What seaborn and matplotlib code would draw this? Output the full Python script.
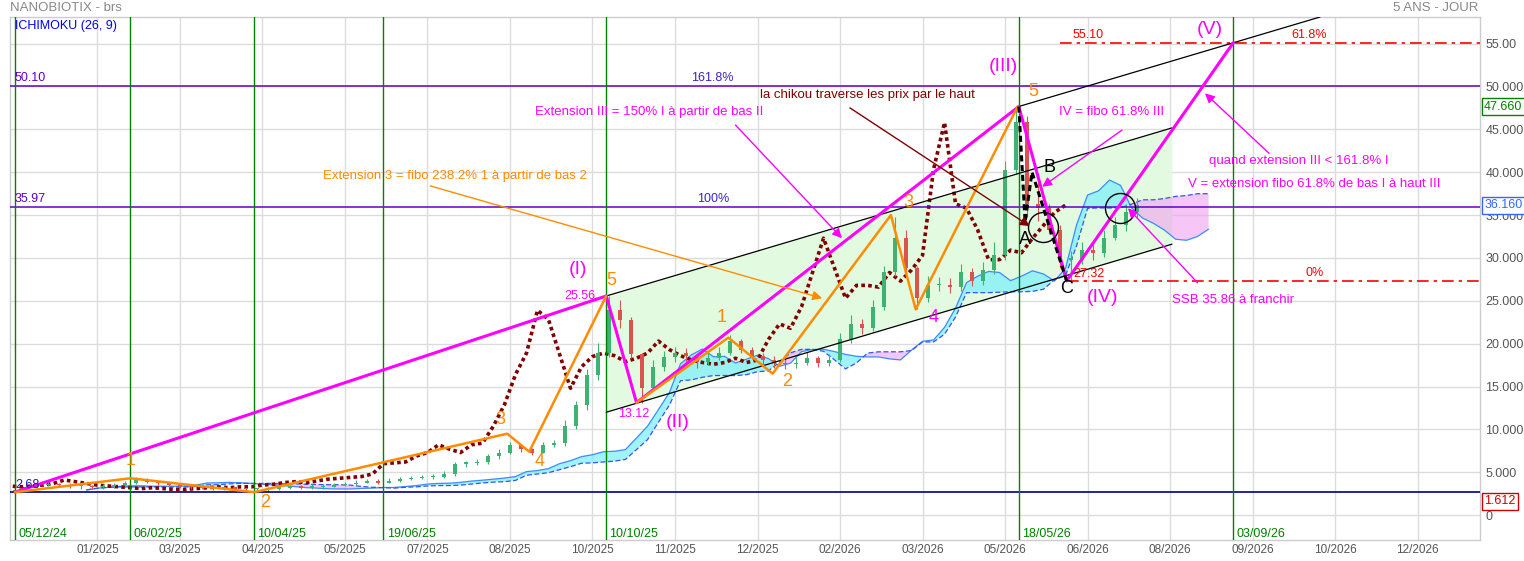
from __future__ import annotations

import matplotlib

matplotlib.use("Agg")

import matplotlib.pyplot as plt
import numpy as np
import pandas as pd
import seaborn as sns


# one candle every 4 sessions, x = session index counted from 05/12/24
CANDLE_STEP = 4

closes = [
    2.9, 3.3, 3.5, 3.6, 3.5, 3.4, 3.4, 3.3, 3.4, 3.5,
    3.7, 4.1, 3.9, 3.7, 3.5, 3.4, 3.3, 3.2, 3.1, 3.2,
    3.1, 3.0, 3.0, 3.1, 3.2, 3.3, 3.2, 3.3, 3.3, 3.5,
    3.6, 3.8, 3.9, 3.8, 4.0, 4.2, 4.3, 4.4, 4.5, 4.8,
    6.0, 6.1, 6.2, 6.9, 7.3, 8.2, 7.7, 7.3, 8.2, 8.4,
    10.4, 12.9, 16.4, 18.9, 23.9, 22.8, 18.8, 14.8, 17.3, 18.5,
    18.9, 18.6, 17.9, 18.3, 18.9, 20.3, 19.3, 18.6, 18.1, 17.8,
    17.6, 17.8, 18.3, 17.8, 18.1, 20.5, 22.3, 21.8, 24.3, 28.3,
    32.3, 28.8, 25.3, 26.8, 26.8, 26.6, 28.3, 27.3, 28.6, 30.3,
    40.3, 45.8, 36.3, 35.8, 33.3, 29.8, 29.8, 30.9, 30.6, 32.3,
    33.8, 35.3, 36.16,
]
highs = [
    3.2, 3.6, 3.8, 3.9, 3.8, 3.7, 3.6, 3.5, 3.6, 3.7,
    4.0, 4.4, 4.3, 4.0, 3.8, 3.7, 3.6, 3.5, 3.4, 3.4,
    3.3, 3.2, 3.2, 3.3, 3.4, 3.5, 3.5, 3.6, 3.6, 3.8,
    3.9, 4.1, 4.2, 4.2, 4.3, 4.5, 4.6, 4.7, 4.8, 5.1,
    6.2, 6.3, 6.5, 7.1, 7.7, 8.5, 8.3, 7.8, 8.5, 8.8,
    11.1, 13.3, 17.1, 20.1, 25.56, 25.1, 23.1, 18.9, 18.1, 19.2,
    19.6, 19.5, 18.8, 19.0, 19.6, 21.0, 20.6, 19.6, 18.9, 18.6,
    18.3, 18.5, 19.0, 18.6, 18.8, 21.3, 23.3, 22.9, 25.1, 29.1,
    34.8, 33.3, 29.1, 27.9, 27.8, 27.7, 29.3, 28.8, 29.5, 31.8,
    41.3, 47.66, 46.5, 38.8, 36.3, 33.8, 30.8, 31.8, 31.6, 33.3,
    34.8, 36.3, 37.0,
]
lows = [
    2.68, 2.9, 3.2, 3.4, 3.3, 3.2, 3.1, 3.0, 3.1, 3.2,
    3.3, 3.6, 3.7, 3.5, 3.3, 3.2, 3.1, 3.0, 2.9, 2.9,
    2.8, 2.75, 2.7, 2.75, 2.9, 3.0, 3.0, 3.0, 3.1, 3.3,
    3.4, 3.5, 3.7, 3.6, 3.7, 3.9, 4.1, 4.2, 4.2, 4.3,
    4.6, 5.6, 5.8, 6.0, 6.6, 7.1, 7.4, 7.0, 7.2, 7.9,
    8.1, 10.1, 12.3, 15.8, 18.5, 21.8, 18.3, 13.12, 14.5, 16.8,
    17.9, 17.7, 17.2, 17.5, 18.1, 18.7, 18.9, 18.2, 17.5, 17.2,
    17.1, 17.2, 17.5, 17.3, 17.4, 17.9, 20.1, 21.1, 21.5, 23.9,
    27.9, 28.1, 24.0, 24.9, 26.1, 25.9, 26.2, 26.7, 26.9, 28.1,
    29.8, 39.8, 34.8, 34.3, 32.8, 28.8, 27.32, 29.3, 29.8, 30.1,
    32.1, 33.1, 34.8,
]

month_labels = [
    "01/2025", "03/2025", "04/2025", "05/2025", "07/2025", "08/2025",
    "10/2025", "11/2025", "12/2025", "02/2026", "03/2026", "05/2026",
    "06/2026", "08/2026", "09/2026", "10/2026", "12/2026",
]
month_sessions = [30, 60, 90, 120, 150, 180, 210, 240, 270, 300, 330, 360, 390, 420, 450, 480, 510]

date_labels = ["05/12/24", "06/02/25", "10/04/25", "19/06/25", "10/10/25", "18/05/26", "03/09/26"]
date_sessions = [0, 42, 87, 134, 215, 365, 443]

# Elliott counts (session, price)
wave_main_x = [0, 215, 226, 365, 382.4, 443]
wave_main_y = [2.68, 25.56, 13.12, 47.66, 27.32, 55.10]
wave_a_x = [0, 42, 87, 179, 187, 215]
wave_a_y = [2.68, 4.3, 2.68, 9.5, 7.4, 25.56]
wave_b_x = [226, 259.4, 275.5, 318.5, 327.5, 364.6]
wave_b_y = [13.12, 20.7, 16.5, 35.0, 24.0, 47.66]
abc_x = [365, 367.3, 369.8, 382.4]
abc_y = [47.66, 34.2, 40.0, 27.32]

fib_levels = {"50.10": 50.10, "35.97": 35.97, "2.68": 2.68}
target_high = 55.10
wave4_low = 27.32
channel_slope = 0.0953

last_price = 47.66
ssb_price = 36.16
low_price = 1.612

MAGENTA = "#ff00ff"
ORANGE = "#ff8c00"
GREEN = "#008000"
RED = "#ff0000"
PURPLE = "#6000c8"


def build_frame() -> pd.DataFrame:
    df = pd.DataFrame({"close": closes, "high": highs, "low": lows})
    df["session"] = np.arange(len(df)) * CANDLE_STEP
    df["open"] = [2.68] + closes[:-1]
    # ichimoku (26, 9) expressed in candles of 4 sessions
    tenkan = (df["high"].rolling(3, min_periods=1).max() + df["low"].rolling(3, min_periods=1).min()) / 2
    kijun = (df["high"].rolling(7, min_periods=1).max() + df["low"].rolling(7, min_periods=1).min()) / 2
    df["ssa"] = (tenkan + kijun) / 2
    df["ssb"] = (df["high"].rolling(13, min_periods=1).max() + df["low"].rolling(13, min_periods=1).min()) / 2
    return df


def draw(df: pd.DataFrame) -> None:
    sns.set_theme(style="whitegrid")
    plt.rcParams["font.family"] = ["Liberation Sans", "DejaVu Sans"]

    fig = plt.figure(figsize=(15.24, 5.61), dpi=100)
    ax = fig.add_axes([10 / 1524, 21 / 561, 1470 / 1524, 523 / 561])
    ax.set_facecolor("white")
    ax.set_xlim(-1.8, 532.7)
    ax.set_ylim(-2.9, 58.1)
    ax.grid(True, color="#dcdcdc", lw=1)
    ax.set_axisbelow(True)
    for spine in ax.spines.values():
        spine.set_color("#cccccc")
        spine.set_linewidth(1)

    # channel
    x0, x1 = 215, 420.7
    mid = [25.56, 25.56 + channel_slope * (x1 - x0)]
    low = [12.0, 12.0 + channel_slope * (x1 - x0)]
    ax.fill_between([x0, x1], low, mid, color="#e2fbe0", zorder=1, lw=0)
    ax.plot([x0, x1], mid, color="black", lw=0.9, zorder=6)
    ax.plot([x0, x1], low, color="black", lw=0.9, zorder=6)
    ax.plot([365, 474.5], [47.66, 47.66 + channel_slope * 109.5], color="black", lw=0.9, zorder=6)

    # ichimoku cloud
    cx = df["session"] + 26
    ssa, ssb = df["ssa"], df["ssb"]
    ax.fill_between(cx, ssa, ssb, where=ssa >= ssb, interpolate=True, color="#7ff0f8", alpha=0.75, lw=0, zorder=2)
    ax.fill_between(cx, ssa, ssb, where=ssa < ssb, interpolate=True, color="#f0a0f0", alpha=0.6, lw=0, zorder=2)
    ax.plot(cx, ssa, color="#3d8bfd", lw=0.9, zorder=2.5)
    ax.plot(cx, ssb, color="#3355ee", lw=0.9, ls=(0, (4, 2)), zorder=2.5)

    # chikou span
    sns.lineplot(x=df["session"] - 26, y=df["close"], ax=ax, color="#800000", lw=2.6,
                 linestyle=(0, (1, 0.9)), zorder=3)

    # candles
    up = df["close"] >= df["open"]
    colors = np.where(up, "#3cb371", "#d9534f")
    bottoms = np.minimum(df["open"], df["close"])
    heights = np.maximum(np.abs(df["close"] - df["open"]), 0.15)
    ax.vlines(df["session"], df["low"], df["high"], colors=colors, lw=0.8, zorder=4)
    ax.bar(df["session"], heights, bottom=bottoms, width=1.7, color=colors, lw=0, zorder=4)

    # horizontal levels
    ax.axhline(fib_levels["50.10"], color=PURPLE, lw=1.1, zorder=5)
    ax.axhline(fib_levels["35.97"], color=PURPLE, lw=1.1, zorder=5)
    ax.axhline(fib_levels["2.68"], color="#000080", lw=1.2, zorder=5)
    dashdot = (0, (7, 3, 2, 3))
    ax.plot([380, 532.7], [target_high, target_high], color=RED, lw=1.2, ls=dashdot, zorder=5)
    ax.plot([382.4, 532.7], [wave4_low, wave4_low], color=RED, lw=1.2, ls=dashdot, zorder=5)

    # date markers
    for s, lab in zip(date_sessions, date_labels):
        ax.axvline(s, color=GREEN, lw=1, zorder=5)
        ax.text(s + 1.2, -2.15, lab, color=GREEN, fontsize=9, ha="left", va="center", zorder=7)

    # wave counts
    ax.plot(wave_main_x, wave_main_y, color=MAGENTA, lw=2.2, zorder=6)
    ax.plot(wave_a_x, wave_a_y, color=ORANGE, lw=1.8, zorder=6)
    ax.plot(wave_b_x, wave_b_y, color=ORANGE, lw=1.8, zorder=6)
    ax.plot(abc_x, abc_y, color="black", lw=2.2, ls=(0, (2, 1.2)), zorder=6)
    ax.plot([373.7, 401.8], [33.6, 35.8], ls="none", marker="o", ms=21.6, mfc="none", mec="black", mew=1, zorder=7)

    big = dict(fontsize=14, ha="center", va="center", zorder=8)
    for x, y, t in [(204.7, 28.6, "(I)"), (241, 10.85, "(II)"), (359.3, 52.3, "(III)"),
                    (395.3, 25.4, "(IV)"), (434.5, 56.6, "(V)")]:
        ax.text(x, y, t, color=MAGENTA, **big)
    digits = dict(fontsize=13, ha="center", va="center", zorder=8)
    for x, y, t in [(42.2, 6.4, "1"), (90.9, 1.5, "2"), (176.4, 11.1, "3"), (190.9, 6.2, "4"),
                    (217, 27.4, "5"), (257, 23.0, "1"), (280.7, 15.6, "2"), (324.7, 36.5, "3"),
                    (370.2, 49.4, "5")]:
        ax.text(x, y, t, color=ORANGE, **digits)
    ax.text(334.2, 23.0, "4", color=MAGENTA, **digits)
    for x, y, t in [(367.3, 32.1, "A"), (376, 40.6, "B"), (382.2, 26.4, "C")]:
        ax.text(x, y, t, color="black", **digits)

    small = dict(fontsize=9, zorder=8)
    ax.text(205.5, 25.6, "25.56", color=MAGENTA, ha="center", va="center", **small)
    ax.text(225, 11.85, "13.12", color=MAGENTA, ha="center", va="center", **small)
    ax.text(384.7, 28.1, "27.32", color=RED, ha="left", va="center", **small)
    ax.text(384.7, 55.3, "55.10", color=RED, ha="left", va="bottom", **small)
    ax.text(470.5, 55.3, "61.8%", color=RED, ha="center", va="bottom", **small)
    ax.text(472.4, 27.5, "0%", color=RED, ha="center", va="bottom", **small)
    ax.text(0, 50.3, "50.10", color=PURPLE, ha="left", va="bottom", **small)
    ax.text(0, 36.2, "35.97", color=PURPLE, ha="left", va="bottom", **small)
    ax.text(0, 2.8, "2.68", color="#1c1cb0", ha="left", va="bottom", **small)
    ax.text(253.5, 50.3, "161.8%", color="#3a22d0", ha="center", va="bottom", **small)
    ax.text(254, 36.2, "100%", color="#3a22d0", ha="center", va="bottom", **small)
    ax.text(0, 57.0, "ICHIMOKU (26, 9)", color="#0000ee", ha="left", va="center", **small)

    notes = [
        (189.1, 47.0, "Extension III = 150% I à partir de bas II", MAGENTA, (262, 45.5), (300.7, 32.3)),
        (112, 39.6, "Extension 3 = fibo 238.2% 1 à partir de bas 2", ORANGE, (151, 38.4), (293.5, 25.3)),
        (271, 49.0, "la chikou traverse les prix par le haut", "#800000", (303.6, 47.5), (369, 33.7)),
        (379.6, 47.0, "IV = fibo 61.8% III", MAGENTA, (402.5, 44.9), (373.5, 38.3)),
        (434.2, 41.3, "quand extension III < 161.8% I", MAGENTA, (456, 42.2), (432.7, 49.2)),
        (426.5, 38.6, "V = extension fibo 61.8% de bas I à haut III", MAGENTA, None, None),
        (420.7, 25.1, "SSB 35.86 à franchir", MAGENTA, (430, 27.1), (404.7, 35.8)),
    ]
    for x, y, t, col, start, tip in notes:
        ax.text(x, y, t, color=col, fontsize=9.5, ha="left", va="center", zorder=8)
        if start is not None:
            ax.annotate("", xy=tip, xytext=start, zorder=8,
                        arrowprops=dict(arrowstyle="-|>", color=col, lw=1, mutation_scale=14,
                                        shrinkA=0, shrinkB=0))

    # axes ticks
    ax.set_xticks(month_sessions)
    ax.set_xticklabels(month_labels)
    ax.tick_params(axis="x", length=0, pad=3, labelsize=8.5, labelcolor="#555555")
    ax.yaxis.tick_right()
    yt = list(range(0, 60, 5))
    ax.set_yticks(yt)
    ax.set_yticklabels(["0" if v == 0 else ("55.00" if v == 55 else f"{v:.3f}") for v in yt])
    ax.tick_params(axis="y", length=0, pad=4, labelsize=9, labelcolor="#555555")
    ax.set_xlabel("")
    ax.set_ylabel("")

    for val, col, txt in [(last_price, GREEN, "47.660"), (ssb_price, "#3366ff", "36.160"), (low_price, "#cc0000", "1.612")]:
        ax.annotate(txt, xy=(1, val), xycoords=ax.get_yaxis_transform(), xytext=(3, 0),
                    textcoords="offset points", ha="left", va="center", color=col, fontsize=9,
                    bbox=dict(boxstyle="square,pad=0.2", fc="white", ec=col, lw=1),
                    annotation_clip=False, zorder=9)

    fig.text(10 / 1524, 1 - 8 / 561, "NANOBIOTIX - brs", color="#888888", fontsize=9.5, ha="left", va="center")
    fig.text(1478 / 1524, 1 - 8 / 561, "5 ANS - JOUR", color="#888888", fontsize=9.5, ha="right", va="center")

    fig.savefig("out.png", dpi=100)
    plt.close(fig)


def main() -> None:
    draw(build_frame())


if __name__ == "__main__":
    main()
